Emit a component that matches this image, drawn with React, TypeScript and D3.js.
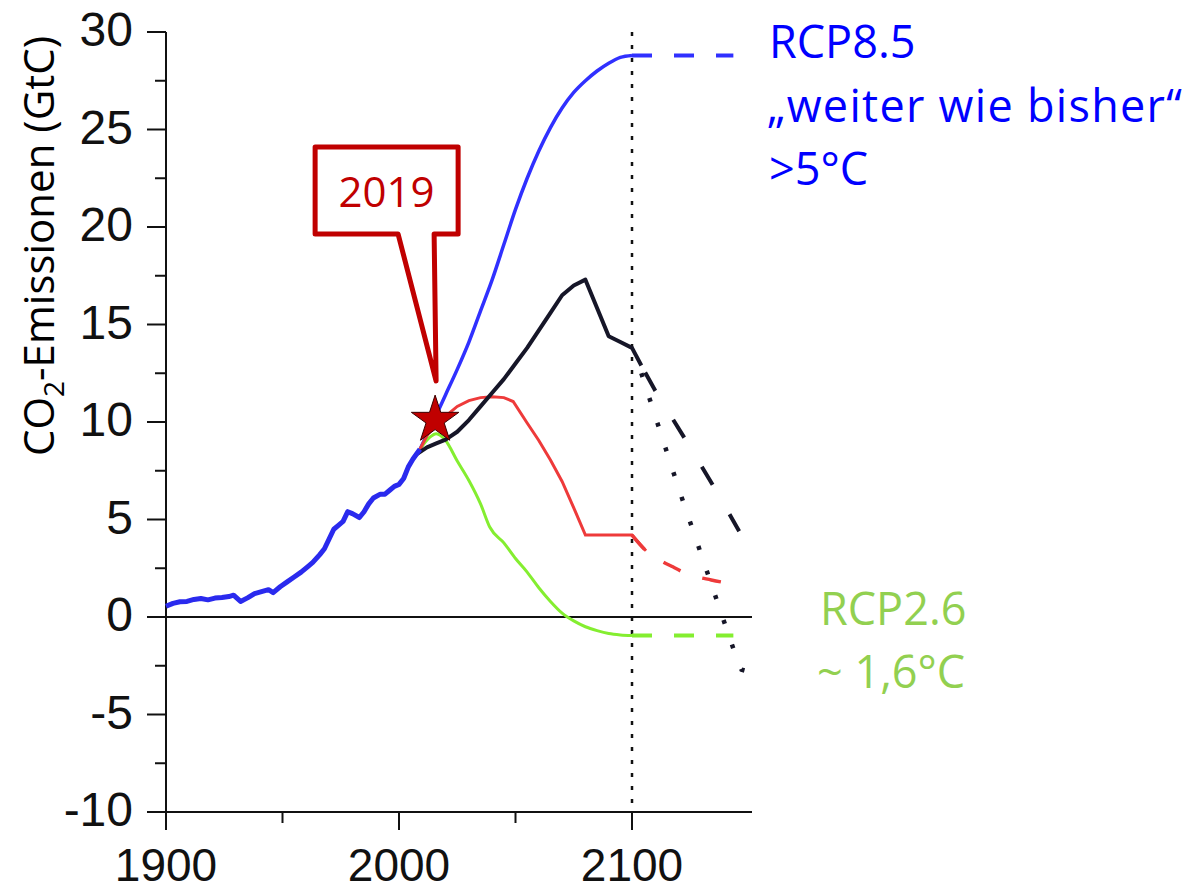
import React from 'react';
import * as d3 from 'd3';

// ---- data (year, GtC) ----
const historical: [number, number][] = [
  [1900, 0.55], [1903, 0.7], [1906, 0.78], [1909, 0.8], [1912, 0.9], [1915, 0.95], [1918, 0.88],
  [1921, 0.97], [1924, 1.0], [1927, 1.05], [1929, 1.12], [1932, 0.8], [1935, 0.98], [1938, 1.2],
  [1941, 1.3], [1944, 1.4], [1946, 1.25], [1949, 1.55], [1952, 1.8], [1955, 2.05], [1958, 2.3],
  [1961, 2.6], [1963, 2.8], [1966, 3.2], [1968, 3.5], [1970, 4.0], [1972, 4.5], [1974, 4.7],
  [1976, 4.9], [1978, 5.4], [1980, 5.3], [1983, 5.1], [1985, 5.4], [1987, 5.8], [1989, 6.1],
  [1992, 6.3], [1994, 6.3], [1996, 6.5], [1998, 6.7], [2000, 6.8], [2002, 7.1], [2004, 7.7],
  [2006, 8.1], [2009, 8.6],
];

const rcp85: [number, number][] = [
  [2009, 8.6], [2015, 10.1], [2020, 11.4], [2025, 12.7], [2030, 14.1], [2035, 15.7], [2040, 17.3],
  [2045, 19.1], [2050, 20.9], [2055, 22.5], [2060, 23.9], [2065, 25.1], [2070, 26.1], [2075, 26.9],
  [2080, 27.5], [2085, 28.0], [2090, 28.4], [2095, 28.7], [2100, 28.8],
];
const rcp85Ext: [number, number][] = [[2100, 28.8], [2143.5, 28.8]];

const rcp6: [number, number][] = [
  [2007, 8.3], [2012, 8.7], [2016, 8.9], [2020, 9.1], [2025, 9.5], [2030, 10.1], [2035, 10.8],
  [2040, 11.5], [2045, 12.2], [2050, 13.0], [2055, 13.8], [2060, 14.7], [2065, 15.6], [2070, 16.5],
  [2075, 17.0], [2080, 17.3], [2085, 15.85], [2090, 14.4], [2095, 14.1], [2100, 13.8], [2104, 12.9],
];
const rcp6Dashed: [number, number][] = [[2104, 12.9], [2110, 11.6], [2125, 8.7], [2136, 6.5], [2146, 4.4]];
const rcp6Dotted: [number, number][] = [[2104, 12.5], [2120, 6.6], [2136, 1.0], [2144, -1.8], [2147, -2.7], [2150, -2.8]];

const rcp45: [number, number][] = [
  [2009, 8.6], [2012, 9.3], [2016, 9.9], [2020, 10.3], [2025, 10.8], [2030, 11.1], [2035, 11.25],
  [2040, 11.3], [2045, 11.25], [2049, 11.05], [2055, 9.95], [2060, 9.05], [2065, 8.05], [2070, 6.95],
  [2075, 5.6], [2080, 4.2], [2090, 4.2], [2100, 4.2], [2106, 3.4],
];
const rcp45Dashed: [number, number][] = [[2100, 4.2], [2106, 3.4], [2110, 3.05], [2117, 2.6], [2124, 2.2], [2134, 1.9], [2143, 1.7]];

const rcp26: [number, number][] = [
  [2009, 8.6], [2013, 9.2], [2016, 9.4], [2020, 9.05], [2025, 8.0], [2030, 7.0], [2035, 5.8],
  [2039, 4.6], [2045, 3.8], [2050, 3.0], [2055, 2.3], [2060, 1.5], [2065, 0.8], [2070, 0.2],
  [2075, -0.2], [2080, -0.5], [2085, -0.7], [2090, -0.85], [2095, -0.92], [2100, -0.95],
];
const rcp26Dashed: [number, number][] = [[2100, -0.95], [2143.5, -0.95]];

const yTicks = [30, 25, 20, 15, 10, 5, 0, -5, -10];
const yMinorTicks = [27.5, 22.5, 17.5, 12.5, 7.5, 2.5, -2.5, -7.5];
const xTicks = [1900, 2000, 2100];
const xMinorTicks = [1950, 2050];
const markerYear = 2015.5;
const markerValue = 10.1;
const markerLabel = '2019';

const W = 1193;
const H = 891;

export default function App() {
  const x = d3.scaleLinear().domain([1900, 2151.5]).range([166, 752]);
  const y = d3.scaleLinear().domain([-10, 30]).range([812, 32]);

  const lin = d3.line<[number, number]>().x(d => x(d[0])).y(d => y(d[1]));
  const smooth = d3.line<[number, number]>().x(d => x(d[0])).y(d => y(d[1])).curve(d3.curveMonotoneX);

  const sx = x(markerYear);
  const sy = y(markerValue);
  const star = d3.symbol().type(d3.symbolStar).size(700)();

  const tipX = sx + 1;
  const tipY = sy - 39;
  const bl = tipX - 121, br = tipX + 22, bt = tipY - 234, bb = tipY - 147;
  const callout = `M${bl},${bt} H${br} V${bb} H${tipX - 2} L${tipX},${tipY} L${tipX - 38},${bb} H${bl} Z`;

  const axisFont = '"Liberation Sans", Arial, sans-serif';
  const textFont = '"Open Sans", "Noto Sans", sans-serif';

  return (
    <svg width={W} height={H} style={{ position: 'absolute', left: 0, top: 0, background: '#fff' }}>
      <rect width={W} height={H} fill="#fff" />

      {/* axes */}
      <line x1={x(1900)} x2={x(1900)} y1={y(30)} y2={y(-10)} stroke="#111" strokeWidth={2} />
      <line x1={x(1900)} x2={x(2151.5)} y1={y(-10)} y2={y(-10)} stroke="#111" strokeWidth={2} />
      {yTicks.map(t => (
        <g key={'yt' + t}>
          <line x1={x(1900) - 19} x2={x(1900)} y1={y(t)} y2={y(t)} stroke="#111" strokeWidth={2} />
          <text x={133} y={y(t) + 14} textAnchor="end" fontFamily={axisFont} fontSize={48} fill="#111">{t}</text>
        </g>
      ))}
      {yMinorTicks.map(t => (
        <line key={'ym' + t} x1={x(1900) - 11} x2={x(1900)} y1={y(t)} y2={y(t)} stroke="#111" strokeWidth={2} />
      ))}
      {xTicks.map(t => (
        <g key={'xt' + t}>
          <line x1={x(t)} x2={x(t)} y1={y(-10)} y2={y(-10) + 18} stroke="#111" strokeWidth={2} />
          <text x={x(t)} y={881} textAnchor="middle" fontFamily={axisFont} fontSize={46} fill="#111">{t}</text>
        </g>
      ))}
      {xMinorTicks.map(t => (
        <line key={'xm' + t} x1={x(t)} x2={x(t)} y1={y(-10)} y2={y(-10) + 11} stroke="#111" strokeWidth={2} />
      ))}

      {/* zero line */}
      <line x1={x(1900)} x2={x(2151.5)} y1={y(0)} y2={y(0)} stroke="#111" strokeWidth={2} />
      {/* 2100 dotted line */}
      <line x1={x(2100)} x2={x(2100)} y1={y(30)} y2={y(-10)} stroke="#111" strokeWidth={2.5} strokeDasharray="4 9" />

      {/* y axis title */}
      <text transform={`translate(54,246) rotate(-90)`} textAnchor="middle" fontFamily={textFont} fontSize={42} fill="#000">
        CO<tspan fontSize={28} dy={10}>2</tspan><tspan dy={-10}>-Emissionen (GtC)</tspan>
      </text>

      {/* scenario lines */}
      <path d={smooth(rcp85) || ''} fill="none" stroke="#3030ff" strokeWidth={3.5} />
      <path d={lin(rcp85Ext) || ''} fill="none" stroke="#3030ff" strokeWidth={4} strokeDasharray="20 22" />
      <path d={smooth(rcp26) || ''} fill="none" stroke="#84ee30" strokeWidth={3} />
      <path d={lin(rcp26Dashed) || ''} fill="none" stroke="#84ee30" strokeWidth={4} strokeDasharray="20 22" />
      <path d={lin(rcp45) || ''} fill="none" stroke="#ee3a3a" strokeWidth={3} />
      <path d={smooth(rcp45Dashed) || ''} fill="none" stroke="#ee3a3a" strokeWidth={3.5} strokeDasharray="19 23" />
      <path d={lin(rcp6) || ''} fill="none" stroke="#161628" strokeWidth={4} strokeLinejoin="round" />
      <path d={lin(rcp6Dashed) || ''} fill="none" stroke="#161628" strokeWidth={4} strokeDasharray="0 8 21 26" />
      <path d={lin(rcp6Dotted) || ''} fill="none" stroke="#161628" strokeWidth={4.5} strokeDasharray="4 22" />
      <path d={lin(historical) || ''} fill="none" stroke="#2a2aee" strokeWidth={5} strokeLinejoin="round" />

      {/* callout + star */}
      <path d={callout} fill="#fff" stroke="#c00000" strokeWidth={5} strokeLinejoin="round" />
      <text x={(bl + br) / 2} y={bt + 60} textAnchor="middle" fontFamily={textFont} fontSize={42} fill="#c00000">{markerLabel}</text>
      <path d={star || ''} transform={`translate(${sx},${sy})`} fill="#c00000" stroke="#3a0000" strokeWidth={1} />

      {/* labels */}
      <g fontFamily={textFont} fontSize={45} fill="#0000ff">
        <text x={769} y={58}>RCP8.5</text>
        <text x={767} y={122} textLength={415} lengthAdjust="spacing">„weiter wie bisher“</text>
        <text x={769} y={185}>&gt;5°C</text>
      </g>
      <g fontFamily={textFont} fontSize={45} fill="#92d050">
        <text x={820} y={625}>RCP2.6</text>
        <text x={817} y={688}>~ 1,6°C</text>
      </g>
    </svg>
  );
}
